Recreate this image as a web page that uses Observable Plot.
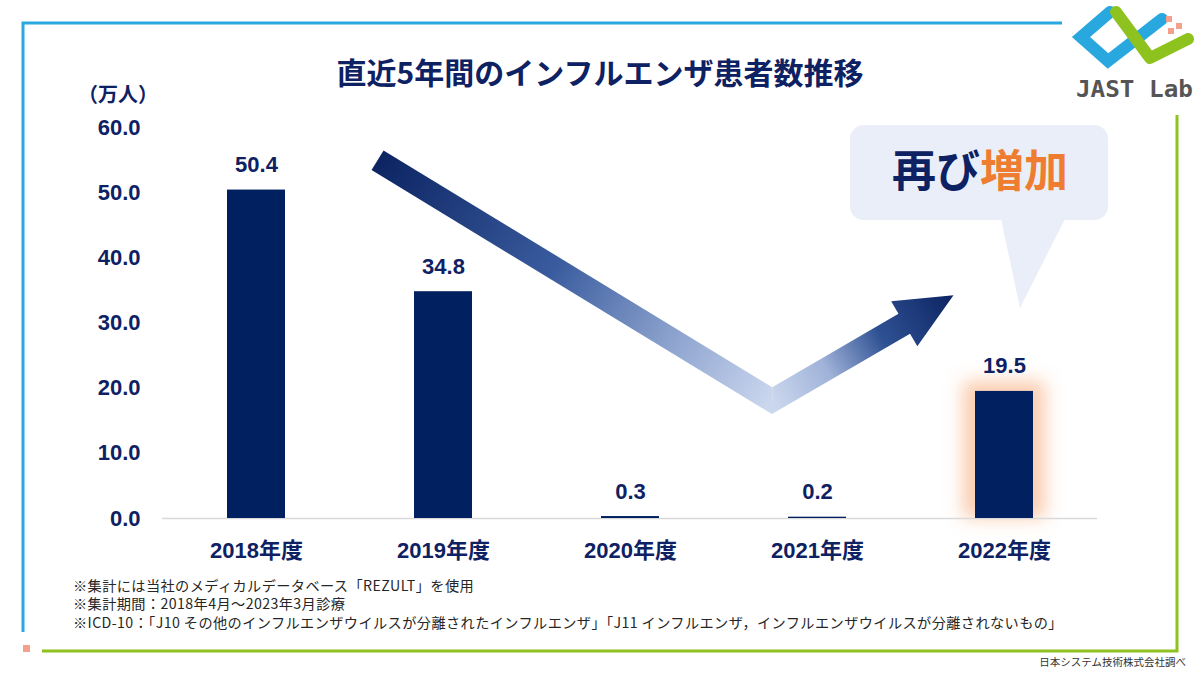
<!DOCTYPE html>
<html>
<head>
<meta charset="utf-8">
<script src="https://cdn.jsdelivr.net/npm/d3@7"></script>
<script src="https://cdn.jsdelivr.net/npm/@observablehq/plot@0.6"></script>
<style>
  body { margin: 0; background: #fff; }
  #page { position: relative; width: 1200px; height: 675px; overflow: hidden; background: #fff; }
  #page > svg { position: absolute; left: 0; top: 0; }
</style>
</head>
<body>
<div id="page">
  <svg id="decor" width="1200" height="675" font-family="'Noto Sans CJK JP', sans-serif">
    <!-- frame -->
    <polyline points="1062,23 23,23 23,632" fill="none" stroke="#29a8e0" stroke-width="3"/>
    <polyline points="42,651 1177,651 1177,115" fill="none" stroke="#8dc21f" stroke-width="3"/>
    <rect x="23" y="645" width="7" height="7" fill="#f4a08c"/>
    <!-- logo -->
    <g>
      <polyline points="1110,12 1081,37 1108,61 1162,19" fill="none" stroke="#29a8e0" stroke-width="12" stroke-linejoin="miter" stroke-linecap="round"/>
      <polyline points="1116,12 1150,58 1188,39" fill="none" stroke="#8dc21f" stroke-width="12" stroke-linejoin="round" stroke-linecap="round"/>
      <rect x="1166" y="16" width="6" height="6" fill="#f4a08c"/>
      <rect x="1176" y="23" width="6" height="6" fill="#f4a08c"/>
      <rect x="1168" y="28" width="6" height="6" fill="#f4a08c"/>
      <text x="1076" y="97" font-family="'DejaVu Sans Mono', monospace" font-weight="bold" font-size="23" fill="#555" textLength="117" lengthAdjust="spacingAndGlyphs">JAST Lab</text>
    </g>
    <!-- title and unit -->
    <text x="600" y="84" text-anchor="middle" font-size="30" font-weight="bold" fill="#0e2163">直近5年間のインフルエンザ患者数推移</text>
    <text x="78" y="102" font-size="20" font-weight="bold" fill="#0e2163">（万人）</text>
    <!-- callout -->
    <rect x="850" y="125" width="258" height="95" rx="14" fill="#e9eef8"/>
    <polygon points="1001,219 1065,219 1020,308" fill="#e9eef8"/>
    <text x="980" y="187" text-anchor="middle" font-size="44" font-weight="bold"><tspan fill="#0e2163">再び</tspan><tspan fill="#ee7d31">増加</tspan></text>
    <!-- notes -->
    <g font-size="14.2" letter-spacing="0.4" fill="#262626">
      <text x="73" y="590.5">※集計には当社のメディカルデータベース「REZULT」を使用</text>
      <text x="73" y="609">※集計期間：2018年4月～2023年3月診療</text>
      <text x="73" y="627.5">※ICD-10：「J10 その他のインフルエンザウイルスが分離されたインフルエンザ」「J11 インフルエンザ，インフルエンザウイルスが分離されないもの」</text>
    </g>
    <text x="1186" y="666" text-anchor="end" font-size="10.5" fill="#333">日本システム技術株式会社調べ</text>
  </svg>
</div>
<script>
// 年度別インフルエンザ患者数（万人）
const years = ["2018年度", "2019年度", "2020年度", "2021年度", "2022年度"];
const patients = [50.4, 34.8, 0.3, 0.2, 19.5];
const yTicks = [0, 10, 20, 30, 40, 50, 60];
const highlightYear = "2022年度";

// trend arrow waypoints: year, offset from the band centre (in band steps), value (万人)
const arrowYears = ["2019年度", "2021年度", "2022年度"];
const arrowOffsets = [-0.35, -0.24, -0.27];
const arrowValues = [54.9, 18.0, 34.2];

const data = years.map((year, i) => ({year, value: patients[i]}));

const navy = "#0e2163";
const barColor = "#002060";
const glowColor = "#f59a5c";

// gradient-filled "down then up" arrow drawn in data space
function trendArrow(index, scales, values, dimensions) {
  const x = scales.x, y = scales.y;
  const step = x.step ? x.step() : (dimensions.width - dimensions.marginLeft - dimensions.marginRight) / years.length;
  const bw = x.bandwidth ? x.bandwidth() : 0;
  const pts = arrowYears.map((c, i) => [x(c) + bw / 2 + arrowOffsets[i] * step, y(arrowValues[i])]);
  const [P0, P1, P2] = pts;
  const sub = (a, b) => [a[0] - b[0], a[1] - b[1]];
  const add = (a, b) => [a[0] + b[0], a[1] + b[1]];
  const mul = (a, k) => [a[0] * k, a[1] * k];
  const norm = a => { const l = Math.hypot(a[0], a[1]); return [a[0] / l, a[1] / l]; };
  const cross = (a, b) => a[0] * b[1] - a[1] * b[0];
  const meet = (p, d, q, e) => add(p, mul(d, cross(sub(q, p), e) / cross(d, e)));
  const w = 11.5, headLen = 57, headHalf = 26;
  const u1 = norm(sub(P1, P0)), n1 = [-u1[1], u1[0]];
  const u2 = norm(sub(P2, P1)), n2 = [-u2[1], u2[0]];
  const m1 = n1[1] > 0 ? n1 : mul(n1, -1); // normals pointing downward
  const m2 = n2[1] > 0 ? n2 : mul(n2, -1);
  const tailUp = sub(P0, mul(m1, w)), tailLo = add(P0, mul(m1, w));
  const vUp = meet(tailUp, u1, sub(P1, mul(m2, w)), u2);
  const vLo = meet(tailLo, u1, add(P1, mul(m2, w)), u2);
  const B = sub(P2, mul(u2, headLen));
  const shaftUp = sub(B, mul(m2, w)), shaftLo = add(B, mul(m2, w));
  const barbUp = sub(B, mul(m2, headHalf)), barbLo = add(B, mul(m2, headHalf));

  const g = d3.create("svg:g");
  const defs = g.append("defs");
  const gradDown = defs.append("linearGradient").attr("id", "arrow-down")
    .attr("gradientUnits", "userSpaceOnUse")
    .attr("x1", P0[0]).attr("y1", P0[1]).attr("x2", P1[0]).attr("y2", P1[1]);
  [[0, "#0c2462"], [0.45, "#3a5c9e"], [0.75, "#8ea4cf"], [1, "#cbd7ee"]]
    .forEach(([o, c]) => gradDown.append("stop").attr("offset", o).attr("stop-color", c));
  const gradUp = defs.append("linearGradient").attr("id", "arrow-up")
    .attr("gradientUnits", "userSpaceOnUse")
    .attr("x1", P1[0]).attr("y1", P1[1]).attr("x2", P2[0]).attr("y2", P2[1]);
  [[0, "#cbd7ee"], [0.3, "#9fb2d8"], [0.6, "#2f5193"], [1, "#0c2462"]]
    .forEach(([o, c]) => gradUp.append("stop").attr("offset", o).attr("stop-color", c));
  const poly = ps => ps.map(p => p.join(",")).join(" ");
  g.append("polygon").attr("points", poly([tailUp, vUp, vLo, tailLo])).attr("fill", "url(#arrow-down)");
  g.append("polygon").attr("points", poly([vUp, shaftUp, barbUp, P2, barbLo, shaftLo, vLo])).attr("fill", "url(#arrow-up)");
  return g.node();
}

const chart = Plot.plot({
  width: 1200,
  height: 675,
  marginLeft: 162,
  marginRight: 103,
  marginTop: 127,
  marginBottom: 157,
  style: {
    fontFamily: '"Liberation Sans", "Noto Sans CJK JP", sans-serif',
    background: "transparent",
    color: navy,
    overflow: "visible"
  },
  x: {domain: years, paddingInner: 0.69, paddingOuter: 0.345, label: null},
  y: {domain: [0, 60], label: null},
  marks: [
    Plot.barY(data.filter(d => d.year === highlightYear), {
      x: "year", y: d => d.value + 1.5, fill: glowColor, fillOpacity: 0.5,
      insetLeft: -12, insetRight: -12
    }),
    Plot.ruleY([0], {stroke: "#d9d9d9", strokeWidth: 1.5}),
    Plot.barY(data, {x: "year", y: "value", fill: barColor}),
    Plot.text(data, {
      x: "year", y: "value", text: d => d.value.toFixed(1), dy: -25,
      fontSize: 22, fontWeight: "bold", fill: navy
    }),
    trendArrow,
    Plot.axisY({ticks: yTicks, tickFormat: d => d.toFixed(1), tickSize: 0, tickPadding: 22, fontSize: 22, fontWeight: "bold", label: null}),
    Plot.axisX({tickSize: 0, tickPadding: 24, fontSize: 22, fontWeight: "bold", label: null})
  ]
});

// soften the highlight behind the latest year into a glow
const svg = d3.select(chart.tagName.toLowerCase() === "svg" ? chart : chart.querySelector("svg"));
svg.append("defs").append("filter").attr("id", "bar-glow")
  .attr("x", "-50%").attr("y", "-50%").attr("width", "200%").attr("height", "200%")
  .append("feGaussianBlur").attr("stdDeviation", 9);
svg.selectAll("rect").filter(function () {
  return (this.getAttribute("fill") || this.parentNode.getAttribute("fill")) === glowColor;
}).each(function () {
  d3.select(this.parentNode).attr("filter", "url(#bar-glow)");
});

document.getElementById("page").appendChild(chart);
</script>
</body>
</html>
